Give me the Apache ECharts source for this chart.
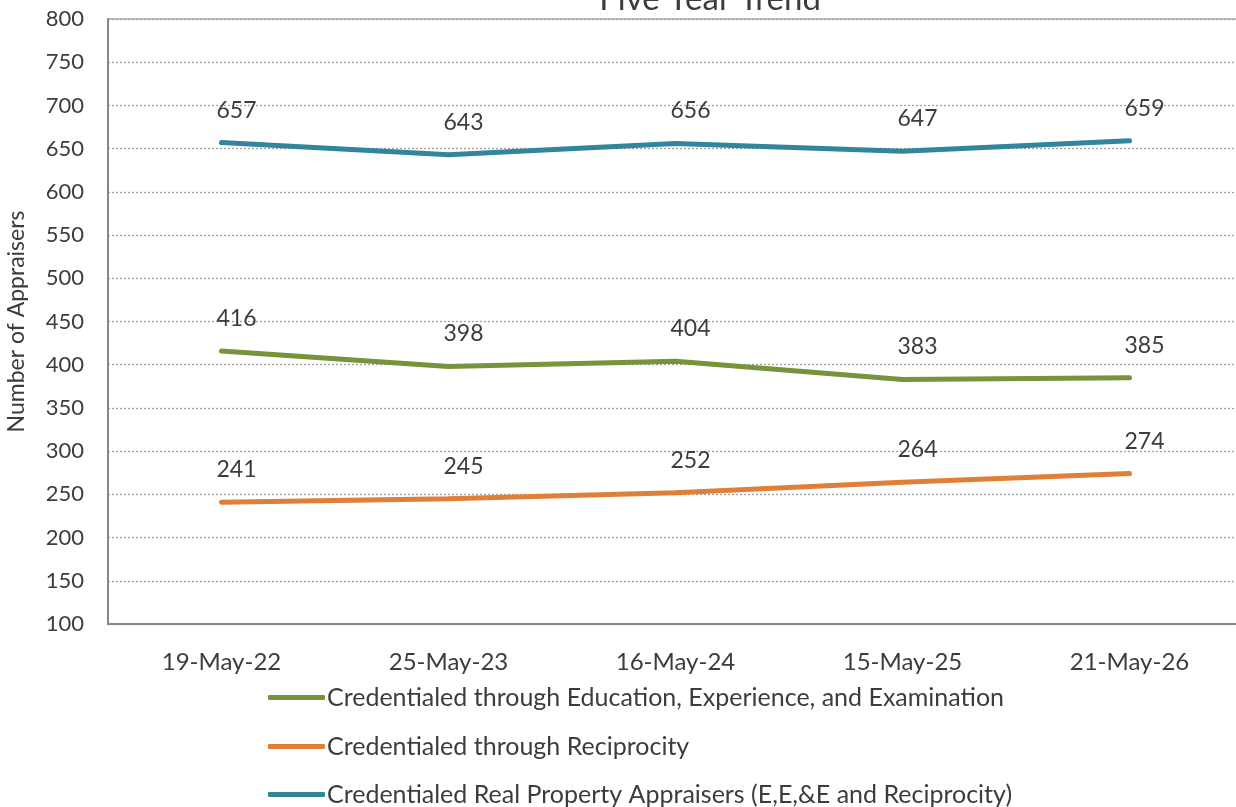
<!DOCTYPE html>
<html>
<head>
<meta charset="utf-8">
<script src="https://cdn.jsdelivr.net/npm/echarts@6/dist/echarts.min.js"></script>
<style>html,body{margin:0;padding:0;background:#fff;}#c{width:1236px;height:807px;}</style>
</head>
<body>
<div id="c"></div>
<script>
const categories = ['19-May-22', '25-May-23', '16-May-24', '15-May-25', '21-May-26'];
const eeeValues = [416, 398, 404, 383, 385];
const reciprocityValues = [241, 245, 252, 264, 274];
const totalValues = [657, 643, 656, 647, 659];
const seriesNames = [
  'Credentialed through Education, Experience, and Examination',
  'Credentialed through Reciprocity',
  'Credentialed Real Property Appraisers (E,E,&E and Reciprocity)'
];
const colors = ['#77933C', '#E07F38', '#31859C'];
const FONT = 'Lato';
const TXT = '#3c3c3c';

function mkSeries(name, data, color) {
  return {
    name: name,
    type: 'line',
    data: data,
    symbol: 'circle',
    symbolSize: 4,
    showSymbol: true,
    smooth: false,
    lineStyle: { color: color, width: 5, cap: 'round' },
    itemStyle: { color: color },
    label: {
      show: true, position: 'top', distance: 19, offset: [15, 0],
      color: TXT, fontFamily: FONT, fontSize: 23
    }
  };
}

function mkLegend(i, top) {
  return {
    orient: 'vertical', left: 263, top: top,
    icon: 'roundRect', itemWidth: 57, itemHeight: 5,
    textStyle: { color: TXT, fontFamily: FONT, fontSize: 25, padding: [0, 0, 0, -3] },
    data: [seriesNames[i]]
  };
}

const chart = echarts.init(document.getElementById('c'), null, { renderer: 'canvas' });
chart.setOption({
  animation: false,
  backgroundColor: '#ffffff',
  title: {
    text: 'Five Year Trend', left: 705, top: -22, textAlign: 'center',
    textStyle: { color: TXT, fontFamily: FONT, fontSize: 33, fontWeight: 'normal' }
  },
  grid: { left: 108, top: 19, right: -7, bottom: 183, outerBoundsMode: 'none', containLabel: false,
    show: true, borderColor: '#a6a6a6', borderWidth: 1.5, backgroundColor: 'transparent' },
  legend: [mkLegend(0, 680), mkLegend(1, 729), mkLegend(2, 777)],
  xAxis: {
    type: 'category', data: categories, boundaryGap: true,
    axisLine: { lineStyle: { color: '#868686', width: 2 } },
    axisTick: { show: false },
    axisLabel: { color: TXT, fontFamily: FONT, fontSize: 24, margin: 26 }
  },
  yAxis: {
    type: 'value', min: 100, max: 800, interval: 50,
    name: 'Number of Appraisers', nameLocation: 'middle', nameGap: 80,
    nameTextStyle: { color: TXT, fontFamily: FONT, fontSize: 23 },
    axisLine: { show: true, lineStyle: { color: '#868686', width: 2 } },
    axisTick: { show: false },
    axisLabel: { color: TXT, fontFamily: FONT, fontSize: 22, margin: 24 },
    splitLine: { show: true, lineStyle: { color: '#a0a0a0', width: 1.3, type: [2, 2] } }
  },
  series: [
    mkSeries(seriesNames[0], eeeValues, colors[0]),
    mkSeries(seriesNames[1], reciprocityValues, colors[1]),
    mkSeries(seriesNames[2], totalValues, colors[2])
  ]
});
</script>
</body>
</html>
